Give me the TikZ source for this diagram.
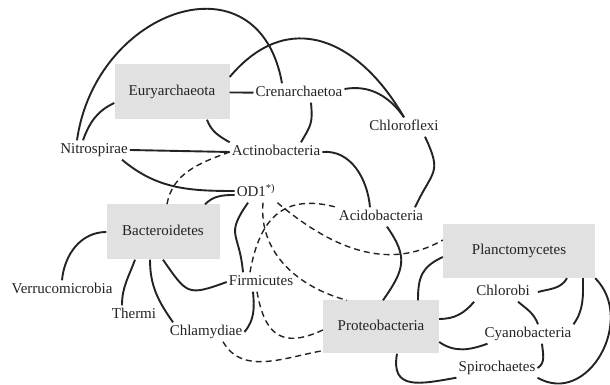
\documentclass[tikz,border=0pt]{standalone}
\usepackage{fontspec}
\setmainfont{Liberation Serif}
\definecolor{boxgray}{RGB}{225,225,225}
\definecolor{inkgray}{RGB}{35,35,35}
\begin{document}
\begin{tikzpicture}[x=1pt,y=1pt,
  taxon/.style={inner xsep=2pt, inner ysep=3pt, text height=10pt, text depth=3pt,
    font=\fontsize{15}{18}\selectfont, text=inkgray},
  bigtaxon/.style={taxon, fill=boxgray, minimum height=55pt},
  solidlink/.style={draw=inkgray, line width=1.9pt},
  dashlink/.style={draw=inkgray, line width=1.4pt, dash pattern=on 6pt off 4pt}]
\useasboundingbox (0,0) rectangle (610,385);

\node[bigtaxon, minimum width=115pt] (eury) at (172,293) {Euryarchaeota};
\node[taxon] (cren) at (299,292) {Crenarchaetoa};
\node[taxon] (nitro) at (94,235) {Nitrospirae};
\node[taxon] (actino) at (276,233) {Actinobacteria};
\node[taxon] (chloro) at (404,258) {Chloroflexi};
\node[taxon] (od1) at (256,192) {OD1\textsuperscript{*)}};
\node[bigtaxon, minimum width=113pt] (bactero) at (163,153) {Bacteroidetes};
\node[taxon] (verruco) at (62,95) {Verrucomicrobia};
\node[taxon] (thermi) at (134,70) {Thermi};
\node[taxon] (chlamy) at (206,53) {Chlamydiae};
\node[taxon] (firmi) at (261,103) {Firmicutes};
\node[taxon] (acido) at (381,168) {Acidobacteria};
\node[bigtaxon, minimum width=152pt, minimum height=54pt] (plancto) at (519,134) {Planctomycetes};
\node[bigtaxon, minimum width=116pt, minimum height=53pt] (proteo) at (381,58) {Proteobacteria};
\node[taxon] (chlorobi) at (503,93) {Chlorobi};
\node[taxon] (cyano) at (528,51) {Cyanobacteria};
\node[taxon] (spiro) at (497,17) {Spirochaetes};

% solid links
\path[solidlink] ([xshift=-17]nitro.north) to[out=82,in=100,looseness=1.6] ([xshift=-17]cren.north);
\path[solidlink] ([xshift=-11]nitro.north) to[out=70,in=205] ([yshift=-11]eury.west);
\path[solidlink] ([yshift=15]eury.east) to[out=50,in=120,looseness=1.3] (chloro.north);
\path[solidlink] (eury) -- (cren);
\path[solidlink] ([yshift=4]cren.east) to[out=10,in=125] (chloro.north);
\path[solidlink] ([xshift=12]cren.south) to[out=-85,in=60,looseness=1.3] ([xshift=25]actino.north);
\path[solidlink] ([xshift=35]eury.south) to[out=-70,in=150] (actino.north west);
\path[solidlink] (nitro.east) -- (actino.west);
\path[solidlink] ([xshift=28]nitro.south) to[out=-40,in=180] ([yshift=2]od1.west);
\path[solidlink] ([yshift=-2]od1.west) to[out=180,in=45] ([xshift=42]bactero.north);
\path[solidlink] ([xshift=-8]od1.south) to[out=-125,in=95,looseness=1.5] ([xshift=-18]firmi.north);
\path[solidlink] (verruco.north) to[out=85,in=180] (bactero.west);
\path[solidlink] ([xshift=-12]thermi.north) to[out=90,in=-110] ([xshift=-28]bactero.south);
\path[solidlink] ([xshift=-33]chlamy.north) to[out=125,in=-90] ([xshift=-13]bactero.south);
\path[solidlink] (firmi.west) to[out=200,in=-55,looseness=1.6] (bactero.south);
\path[solidlink] ([xshift=-8]firmi.south) to[out=-85,in=50] (chlamy.east);
\path[solidlink] (actino.east) to[out=5,in=95] ([xshift=-11]acido.north);
\path[solidlink] ([xshift=21]chloro.south) to[out=-65,in=65,looseness=1.5] ([xshift=34]acido.north);
\path[solidlink] ([xshift=6]acido.south) to[out=-55,in=55,looseness=1.3] ([xshift=2]proteo.north);
\path[solidlink] ([yshift=-6]plancto.west) to[out=205,in=90,looseness=1.2] ([xshift=37]proteo.north);
\path[solidlink] ([yshift=8]proteo.east) to[out=0,in=-130] (chlorobi.south west);
\path[solidlink] ([yshift=-15]proteo.east) to[out=-35,in=200] ([xshift=5]cyano.south west);
\path[solidlink] ([xshift=16]proteo.south) to[out=-100,in=190,looseness=1.5] (spiro.south west);
\path[solidlink] ([xshift=6]chlorobi.east) to[out=15,in=-120] ([xshift=48]plancto.south);
\path[solidlink] ([xshift=15]chlorobi.south) to[out=-40,in=110] ([xshift=10]cyano.north);
\path[solidlink] (cyano.north east) to[out=55,in=-90] ([xshift=64]plancto.south);
\path[solidlink] ([xshift=14]cyano.south) to[out=-85,in=30] (spiro.east);
\path[solidlink] (plancto.south east) to[out=-45,in=-30,looseness=1.3] (spiro.south east);

% dashed links
\path[dashlink] (actino.west) to[out=200,in=80] ([xshift=4]bactero.north);
\path[dashlink] (od1.south east) to[out=-40,in=210] ([yshift=11]plancto.west);
\path[dashlink] ([xshift=7]od1.south) to[out=-95,in=165] ([xshift=-34]proteo.north);
\path[dashlink] ([xshift=-11]firmi.north) to[out=80,in=165,looseness=1.3] (acido.north west);
\path[dashlink] ([xshift=-4]firmi.south) to[out=-80,in=205,looseness=1.5] ([yshift=-3]proteo.west);
\path[dashlink] ([xshift=17]chlamy.south) to[out=-60,in=190] ([yshift=3]proteo.south west);
\end{tikzpicture}
\end{document}
